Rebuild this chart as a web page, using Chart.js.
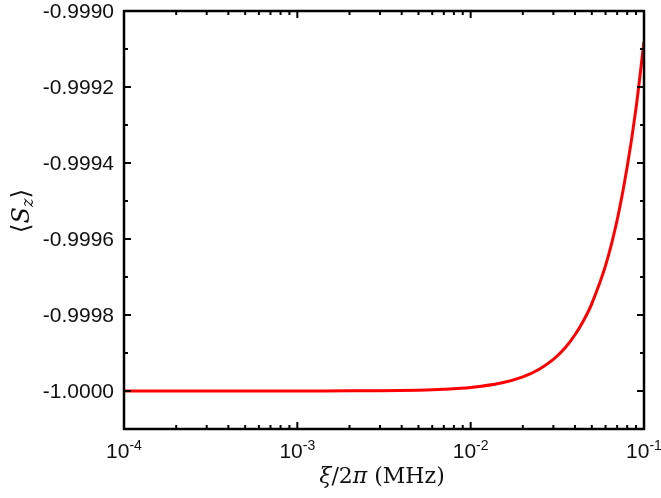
<!DOCTYPE html>
<html>
<head>
<meta charset="utf-8">
<title>Sz vs xi</title>
<script src="https://cdn.jsdelivr.net/npm/chart.js@4.4.1/dist/chart.umd.min.js"></script>
<style>
  html, body { margin: 0; padding: 0; background: #fff; }
  #wrap { width: 661px; height: 498px; }
</style>
</head>
<body>
<div id="wrap"><canvas id="SzChart" width="661" height="498"></canvas></div>
<script>
// values
const xiValues = [1e-4, 2e-4, 5e-4, 1e-3, 2e-3, 3e-3, 5e-3, 7e-3, 0.01, 0.015, 0.02,
  0.025, 0.03, 0.035, 0.04, 0.045, 0.05, 0.06, 0.07, 0.08, 0.09, 0.1];
const szValues = [-1.0, -1.0, -1.0, -0.9999999, -0.9999996, -0.9999992, -0.9999977,
  -0.9999955, -0.9999908, -0.999979, -0.999963, -0.999942, -0.999917, -0.999887,
  -0.999852, -0.999813, -0.99977, -0.99967, -0.99955, -0.99941, -0.999255, -0.99908];

const yTickValues = [-1.0, -0.9998, -0.9996, -0.9994, -0.9992, -0.999];
const yTickLabels = ["-1.0000", "-0.9998", "-0.9996", "-0.9994", "-0.9992", "-0.9990"];
const yMinorValues = [-1.0001, -0.9999, -0.9997, -0.9995, -0.9993, -0.9991];
const xDecades = [1e-4, 1e-3, 1e-2, 1e-1];
const xExponents = ["-4", "-3", "-2", "-1"];

function xMinorValues() {
  const out = [];
  for (let d = 0; d < xDecades.length - 1; d++) {
    for (let k = 2; k <= 9; k++) out.push(k * xDecades[d]);
  }
  return out;
}

const frameAndTicks = {
  id: "frameAndTicks",
  afterDraw(chart) {
    const ctx = chart.ctx;
    const a = chart.chartArea;
    const x = chart.scales.x;
    const y = chart.scales.y;
    ctx.save();
    ctx.strokeStyle = "#000";
    ctx.lineWidth = 2.5;
    ctx.strokeRect(a.left, a.top, a.right - a.left, a.bottom - a.top);

    ctx.lineWidth = 2;
    ctx.beginPath();
    xDecades.forEach(v => {
      const px = x.getPixelForValue(v);
      ctx.moveTo(px, a.bottom); ctx.lineTo(px, a.bottom - 7);
      ctx.moveTo(px, a.top); ctx.lineTo(px, a.top + 7);
    });
    xMinorValues().forEach(v => {
      const px = x.getPixelForValue(v);
      ctx.moveTo(px, a.bottom); ctx.lineTo(px, a.bottom - 4);
      ctx.moveTo(px, a.top); ctx.lineTo(px, a.top + 4);
    });
    yTickValues.forEach(v => {
      const py = y.getPixelForValue(v);
      ctx.moveTo(a.left, py); ctx.lineTo(a.left + 7, py);
      ctx.moveTo(a.right, py); ctx.lineTo(a.right - 7, py);
    });
    yMinorValues.forEach(v => {
      const py = y.getPixelForValue(v);
      ctx.moveTo(a.left, py); ctx.lineTo(a.left + 4, py);
      ctx.moveTo(a.right, py); ctx.lineTo(a.right - 4, py);
    });
    ctx.stroke();

    // y tick labels
    ctx.fillStyle = "#111";
    ctx.font = "21px 'Liberation Sans', Arial, sans-serif";
    ctx.textAlign = "right";
    ctx.textBaseline = "middle";
    yTickValues.forEach((v, i) => {
      ctx.fillText(yTickLabels[i], a.left - 10, y.getPixelForValue(v) + 1);
    });

    // x tick labels: 10 with superscript exponent
    ctx.textAlign = "left";
    ctx.textBaseline = "alphabetic";
    xDecades.forEach((v, i) => {
      const px = x.getPixelForValue(v);
      ctx.font = "21px 'Liberation Sans', Arial, sans-serif";
      const wBase = ctx.measureText("10").width;
      ctx.font = "14px 'Liberation Sans', Arial, sans-serif";
      const wExp = ctx.measureText(xExponents[i]).width;
      const x0 = px - (wBase + wExp) / 2;
      ctx.font = "21px 'Liberation Sans', Arial, sans-serif";
      ctx.fillText("10", x0, a.bottom + 29);
      ctx.font = "14px 'Liberation Sans', Arial, sans-serif";
      ctx.fillText(xExponents[i], x0 + wBase, a.bottom + 21);
    });

    // x title: xi/2pi (MHz)
    const serif = "'DejaVu Serif', 'Liberation Serif', serif";
    const parts = [
      { t: "\u03BE", f: "italic 22px " + serif },
      { t: "/2", f: "22px " + serif },
      { t: "\u03C0", f: "italic 22px " + serif },
      { t: " (MHz)", f: "22px " + serif }
    ];
    let total = 0;
    parts.forEach(p => { ctx.font = p.f; p.w = ctx.measureText(p.t).width; total += p.w; });
    let cx = 382 - total / 2;
    parts.forEach(p => { ctx.font = p.f; ctx.fillText(p.t, cx, 483); cx += p.w; });

    // y title: <S_z>
    ctx.translate(29, 211);
    ctx.rotate(-Math.PI / 2);
    const yparts = [
      { t: "\u27E8", f: "25px 'DejaVu Serif', serif", dy: 0 },
      { t: "S", f: "italic 24px 'DejaVu Serif', serif", dy: 0 },
      { t: "z", f: "italic 16px 'DejaVu Serif', serif", dy: 4 },
      { t: "\u27E9", f: "25px 'DejaVu Serif', serif", dy: 0 }
    ];
    let yw = 0;
    yparts.forEach(p => { ctx.font = p.f; p.w = ctx.measureText(p.t).width; yw += p.w; });
    let yx = -yw / 2;
    yparts.forEach(p => { ctx.font = p.f; ctx.fillText(p.t, yx, p.dy); yx += p.w; });
    ctx.restore();
  }
};

function initSzChart() {
  const ctx = document.getElementById("SzChart");
  new Chart(ctx, {
    type: "line",
    data: {
      datasets: [{
        data: xiValues.map((v, i) => ({ x: v, y: szValues[i] })),
        borderColor: "#ff0000",
        borderWidth: 3,
        pointRadius: 0,
        fill: false,
        tension: 0.3
      }]
    },
    options: {
      responsive: false,
      animation: false,
      devicePixelRatio: 1,
      layout: { padding: { left: 124, right: 17, top: 11, bottom: 69 } },
      plugins: { legend: { display: false }, tooltip: { enabled: false } },
      scales: {
        x: { type: "logarithmic", min: 1e-4, max: 0.1, display: false },
        y: { type: "linear", min: -1.0001, max: -0.999, display: false }
      }
    },
    plugins: [frameAndTicks]
  });
}

document.addEventListener("DOMContentLoaded", initSzChart);
</script>
</body>
</html>
